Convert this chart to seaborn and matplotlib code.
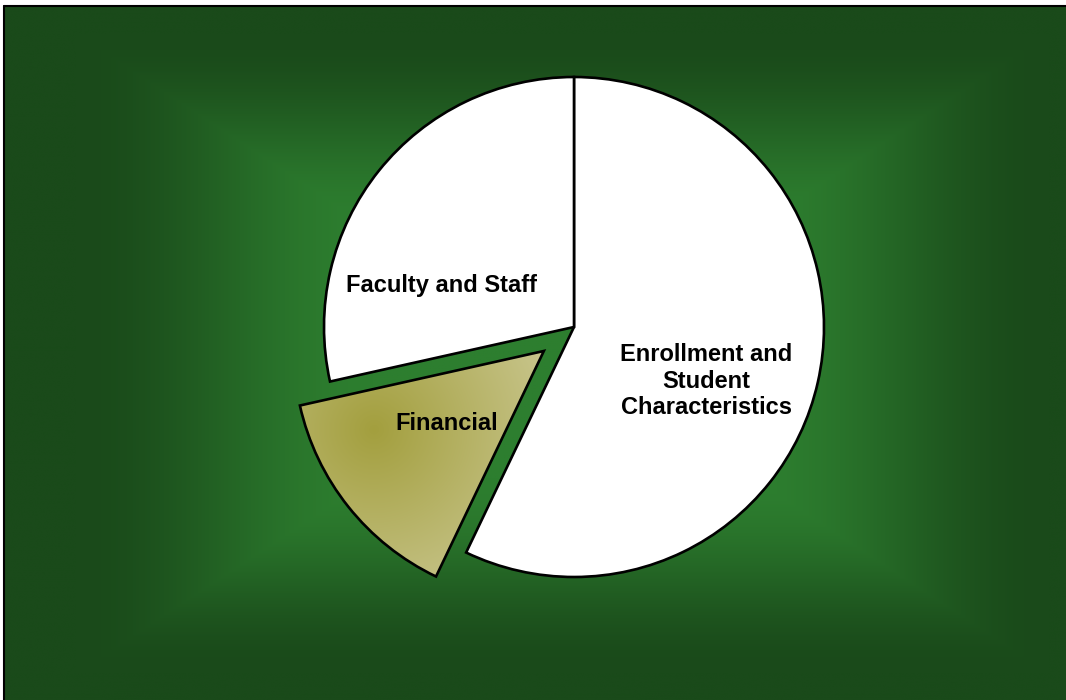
import numpy as np
import matplotlib
matplotlib.use("Agg")
import matplotlib.pyplot as plt
import seaborn as sns

# slices, clockwise from 12 o'clock
categories = ["Enrollment and\nStudent\nCharacteristics", "Financial", "Faculty and Staff"]
shares = [57.1, 14.4, 28.5]
explode = [0, 0.154, 0]
slice_colors = ["white", "#b4b064", "white"]

sns.set_style("white")
plt.rcParams["font.family"] = ["Liberation Sans", "DejaVu Sans"]

W, H = 1066, 700
fig = plt.figure(figsize=(W / 100, H / 100), dpi=100)
fig.patch.set_facecolor("white")

# green background with a rectangular glow in the middle
bg = fig.add_axes([0, 0, 1, 1], zorder=-1)
xx, yy = np.meshgrid(np.arange(W), np.arange(H))
t = np.maximum(np.abs(xx - 560) / 530, np.abs(yy - 350) / 350)
t = np.clip((t - 0.36) / (0.92 - 0.36), 0, 1)
t = t * t * (3 - 2 * t)
bright = np.array([45, 126, 47]) / 255
dark = np.array([26, 74, 26]) / 255
grad = bright[None, None, :] * (1 - t[..., None]) + dark[None, None, :] * t[..., None]
bg.imshow(grad, extent=(4, W, H, 6), aspect="auto", interpolation="bilinear")
bg.plot([4, 4], [H, 6], color="black", lw=1.5)
bg.plot([4, W], [6, 6], color="black", lw=1.5)
bg.set_xlim(0, W)
bg.set_ylim(H, 0)
bg.axis("off")

# pie: 1 data unit = 250 px, centre at (574, 327) px
cx, cy, R = 574, 327, 250
ax = fig.add_axes([(cx - 300) / W, (H - cy - 300) / H, 600 / W, 600 / H])
wedges, _ = ax.pie(
    shares,
    explode=explode,
    colors=slice_colors,
    startangle=90,
    counterclock=False,
    wedgeprops=dict(edgecolor="black", linewidth=1.9),
)

# olive gradient inside the exploded slice
gx, gy = np.meshgrid(np.linspace(-1.2, 0, 300), np.linspace(0, -1.1, 280))
d = np.clip(np.hypot(gx + 0.8, gy + 0.41) / 0.75, 0, 1)
olive_dark = np.array([163, 159, 62]) / 255
olive_light = np.array([200, 197, 140]) / 255
fill = olive_dark[None, None, :] * (1 - d[..., None]) + olive_light[None, None, :] * d[..., None]
im = ax.imshow(fill, extent=(-1.2, 0, -1.1, 0), zorder=0.9, interpolation="bilinear")
im.set_clip_path(wedges[1])
wedges[1].set_facecolor("none")
ax.set_xlim(-1.2, 1.2)
ax.set_ylim(-1.2, 1.2)
ax.set_aspect("equal")
ax.axis("off")


def px(x, y):
    return (x - cx) / R, (cy - y) / R


label_style = dict(fontsize=17, fontweight="bold", color="black", ha="center", va="baseline")
ax.text(*px(442, 292), categories[2], **label_style)
ax.text(*px(447, 430), categories[1], **label_style)
for line, base in zip(categories[0].split("\n"), [361, 388, 414]):
    ax.text(*px(706, base), line, **label_style)

fig.savefig("out.png", dpi=100)
